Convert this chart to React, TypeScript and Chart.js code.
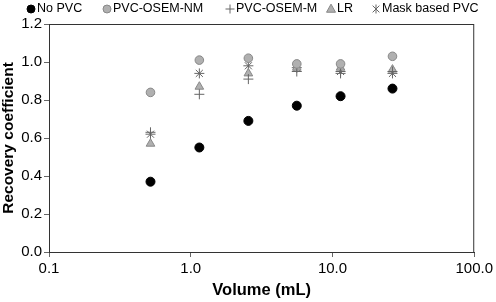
import React, { useEffect, useRef } from "react";
import { Chart, registerables } from "chart.js";

Chart.register(...registerables);

const volumes = [0.52, 1.15, 2.55, 5.6, 11.4, 26.5];
const noPvc = [0.37, 0.55, 0.69, 0.77, 0.82, 0.86];
const pvcOsemNm = [0.84, 1.01, 1.02, 0.99, 0.99, 1.03];
const pvcOsemM = [0.63, 0.83, 0.91, 0.95, 0.94, 0.95];
const lr = [0.57, 0.87, 0.94, 0.97, 0.97, 0.96];
const maskPvc = [0.62, 0.94, 0.98, 0.97, 0.95, 0.94];
const xTicks = [0.1, 1, 10, 100];
const seriesNames = ["No PVC", "PVC-OSEM-NM", "PVC-OSEM-M", "LR", "Mask based PVC"];
const legendMarkerX = [31, 107, 230, 331, 376];

const FONT = "'Liberation Sans', Arial, sans-serif";

const pts = (ys: number[]) => ys.map((y, i) => ({ x: volumes[i], y }));

function drawMarker(ctx: CanvasRenderingContext2D, style: string, x: number, y: number, r: number, fill: string, stroke: string) {
  ctx.save();
  ctx.fillStyle = fill;
  ctx.strokeStyle = stroke;
  ctx.lineWidth = 1;
  ctx.beginPath();
  if (style === "circle") {
    ctx.arc(x, y, r, 0, Math.PI * 2);
    ctx.fill();
    ctx.stroke();
  } else if (style === "triangle") {
    const h = r * 1.8;
    ctx.moveTo(x, y - h * 0.6);
    ctx.lineTo(x + r, y + h * 0.4);
    ctx.lineTo(x - r, y + h * 0.4);
    ctx.closePath();
    ctx.fill();
    ctx.stroke();
  } else if (style === "cross") {
    ctx.moveTo(x - r, y);
    ctx.lineTo(x + r, y);
    ctx.moveTo(x, y - r);
    ctx.lineTo(x, y + r);
    ctx.stroke();
  } else {
    const d = r * 0.75;
    ctx.moveTo(x - d, y - d);
    ctx.lineTo(x + d, y + d);
    ctx.moveTo(x + d, y - d);
    ctx.lineTo(x - d, y + d);
    ctx.moveTo(x, y - r);
    ctx.lineTo(x, y + r);
    ctx.stroke();
  }
  ctx.restore();
}

export default function App() {
  const ref = useRef<HTMLCanvasElement | null>(null);
  useEffect(() => {
    if (!ref.current) return;
    const boxPlugin = {
      id: "boxLegend",
      afterDraw(chart: any) {
        const { ctx, chartArea: a } = chart;
        ctx.save();
        ctx.strokeStyle = "#333";
        ctx.lineWidth = 1;
        ctx.strokeRect(a.left + 0.5, a.top + 0.5, a.right - a.left - 1, a.bottom - a.top);
        // legend
        ctx.font = `12.5px ${FONT}`;
        ctx.textBaseline = "middle";
        const y = 9;
        chart.data.datasets.forEach((ds: any, i: number) => {
          const x = legendMarkerX[i];
          const r = ds.pointStyle === "circle" ? 4 : 4.5;
          drawMarker(ctx, ds.pointStyle, x, y, r, ds.backgroundColor, ds.borderColor);
          ctx.fillStyle = "#000";
          ctx.textAlign = "left";
          ctx.fillText(ds.label, x + 6, y);
        });
        ctx.restore();
      },
    };
    const chart = new Chart(ref.current, {
      type: "scatter",
      data: {
        datasets: [
          {
            label: seriesNames[0],
            data: pts(noPvc),
            pointStyle: "circle",
            pointRadius: 4.5,
            backgroundColor: "#000",
            borderColor: "#000",
            borderWidth: 1,
          },
          {
            label: seriesNames[1],
            data: pts(pvcOsemNm),
            pointStyle: "circle",
            pointRadius: 4.3,
            backgroundColor: "#b0b0b0",
            borderColor: "#888",
            borderWidth: 1,
          },
          {
            label: seriesNames[2],
            data: pts(pvcOsemM),
            pointStyle: "cross",
            pointRadius: 5,
            backgroundColor: "#666",
            borderColor: "#666",
            borderWidth: 1,
          },
          {
            label: seriesNames[3],
            data: pts(lr),
            pointStyle: "triangle",
            pointRadius: 5,
            backgroundColor: "#b0b0b0",
            borderColor: "#888",
            borderWidth: 1,
          },
          {
            label: seriesNames[4],
            data: pts(maskPvc),
            pointStyle: "star",
            pointRadius: 5,
            backgroundColor: "#666",
            borderColor: "#666",
            borderWidth: 1,
          },
        ],
      },
      options: {
        responsive: false,
        animation: false,
        layout: { padding: { left: 0, right: 0, top: 24, bottom: 2 } },
        plugins: {
          tooltip: { enabled: false },
          legend: { display: false },
        },
        scales: {
          x: {
            type: "logarithmic",
            min: 0.1,
            max: 100,
            afterBuildTicks(scale: any) {
              scale.ticks = xTicks.map((v) => ({ value: v }));
            },
            afterFit(scale: any) {
              scale.height = 48;
            },
            ticks: {
              autoSkip: false,
              maxRotation: 0,
              padding: 3,
              color: "#000",
              font: { family: FONT, size: 15 },
              callback: (v: any) => (Number(v) === 0.1 ? "0.1" : Number(v).toFixed(1)),
            },
            grid: { drawOnChartArea: false, drawTicks: true, tickLength: 5, tickColor: "#666" },
            border: { display: true, color: "#333" },
            title: {
              display: true,
              text: "Volume (mL)",
              color: "#000",
              font: { family: FONT, size: 16.5, weight: "bold" },
              padding: { top: 2, bottom: 0 },
            },
          },
          y: {
            type: "linear",
            min: 0,
            max: 1.2,
            afterFit(scale: any) {
              scale.width = 49;
            },
            ticks: {
              stepSize: 0.2,
              padding: 2,
              color: "#000",
              font: { family: FONT, size: 15 },
              callback: (v: any) => Number(v).toFixed(1),
            },
            grid: { drawOnChartArea: false, drawTicks: true, tickLength: 5, tickColor: "#666" },
            border: { display: true, color: "#333" },
            title: {
              display: true,
              text: "Recovery coefficient",
              color: "#000",
              font: { family: FONT, size: 15.5, weight: "bold" },
              padding: { top: -1, bottom: 2 },
            },
          },
        },
      },
      plugins: [boxPlugin],
    } as any);
    return () => chart.destroy();
  }, []);
  return (
    <div style={{ position: "fixed", left: 0, top: 0, width: 496, height: 302, background: "#fff" }}>
      <canvas ref={ref} width={496} height={302} style={{ display: "block" }} />
    </div>
  );
}
